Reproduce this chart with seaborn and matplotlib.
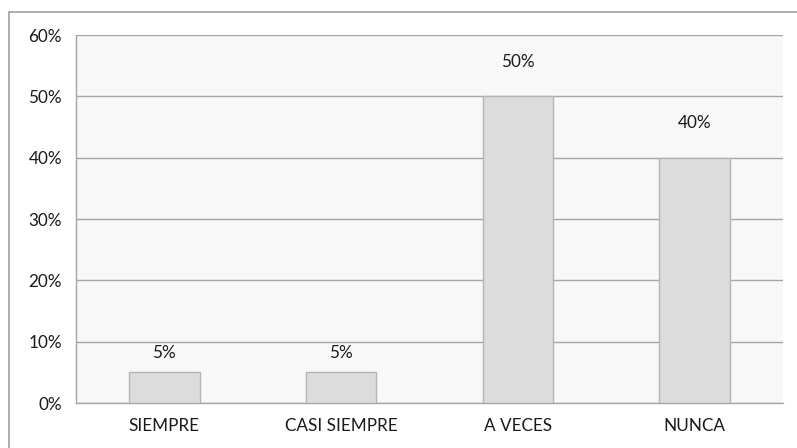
import numpy as np
import pandas as pd
import matplotlib
matplotlib.use('Agg')
import matplotlib.pyplot as plt
import seaborn as sns
from matplotlib.lines import Line2D
from matplotlib.ticker import PercentFormatter, FixedLocator

categories = ['SIEMPRE', 'CASI SIEMPRE', 'A VECES', 'NUNCA']
values = [5, 5, 50, 40]          # percent
y_ticks = [0, 10, 20, 30, 40, 50, 60]

GRID = '#A6A6A6'
BAR = '#DCDCDC'
BAR_EDGE = '#B4B4B4'
TXT = '#1a1a1a'
FS = 12.3

sns.set_style('white')
plt.rcParams['font.family'] = ['Lato', 'DejaVu Sans']

df = pd.DataFrame({'cat': categories, 'pct': values})

fig = plt.figure(figsize=(7.97, 4.48), dpi=100)
ax = fig.add_axes([76 / 797, 1 - 403 / 448, (783 - 76) / 797, (403 - 35) / 448])
ax.set_facecolor('#F8F8F8')

sns.barplot(data=df, x='cat', y='pct', ax=ax, color=BAR, saturation=1,
            edgecolor=BAR_EDGE, linewidth=1, width=0.4, zorder=3)

# labels above the bars (Excel places them a bit unevenly)
pads = [14, 14, 25, 25]
for i, (v, p) in enumerate(zip(values, pads)):
    ax.annotate(f'{v}%', (i, v), xytext=(0, p), textcoords='offset points',
                ha='center', va='center', fontsize=FS, color=TXT)

ax.set_xlim(-0.5, len(categories) - 0.5)
ax.set_ylim(0, 60)
ax.set_yticks(y_ticks)
ax.yaxis.set_major_formatter(PercentFormatter(decimals=0))
ax.grid(axis='y', color=GRID, linewidth=1, zorder=0)
ax.set_axisbelow(True)

ax.xaxis.set_minor_locator(FixedLocator(np.arange(len(categories) + 1) - 0.5))
ax.tick_params(axis='x', which='major', length=0, pad=11, labelsize=FS, labelcolor=TXT)
ax.tick_params(axis='x', which='minor', length=4, color=GRID, width=1)
ax.tick_params(axis='y', length=5, color=GRID, width=1, pad=5, labelsize=FS, labelcolor=TXT)
ax.set_xlabel('')
ax.set_ylabel('')

for s in ['top', 'right']:
    ax.spines[s].set_visible(False)
for s in ['left', 'bottom']:
    ax.spines[s].set_color(GRID)
    ax.spines[s].set_linewidth(1)

# outer chart border (cut off at right and bottom of the picture)
bx, by = 8.5 / 797, 1 - 12.5 / 448
fig.add_artist(Line2D([bx, bx], [0, by], color='#A0A0A0', lw=1.2, transform=fig.transFigure))
fig.add_artist(Line2D([bx, 1], [by, by], color='#A0A0A0', lw=1.2, transform=fig.transFigure))

fig.savefig('out.png', dpi=100)
